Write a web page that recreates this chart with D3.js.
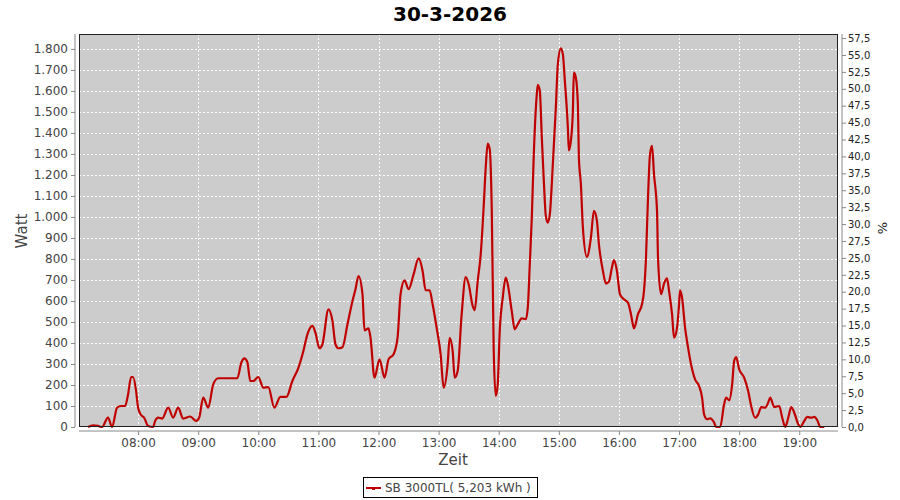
<!DOCTYPE html>
<html><head><meta charset="utf-8">
<script src="https://cdn.jsdelivr.net/npm/d3@7"></script>
<style>body{margin:0;background:#fff}svg{display:block}text{font-family:"DejaVu Sans",sans-serif}</style>
</head><body><svg id="c" width="900" height="500"></svg>
<script>
const title = "30-3-2026";
const seriesName = "SB 3000TL( 5,203 kWh )";
const times = ["07:10","07:15","07:20","07:24","07:30","07:34","07:39","07:43","07:47","07:50","07:53","07:55","07:58","08:00","08:03","08:06","08:10","08:15","08:17","08:20","08:24","08:30","08:35","08:40","08:45","08:52","08:58","09:01","09:05","09:10","09:15","09:20","09:29","09:39","09:43","09:46","09:49","09:52","09:55","10:00","10:05","10:10","10:16","10:22","10:28","10:34","10:40","10:45","10:49","10:54","10:57","11:01","11:04","11:10","11:14","11:17","11:20","11:24","11:29","11:34","11:37","11:40","11:44","11:46","11:50","11:52","11:56","12:01","12:06","12:10","12:15","12:19","12:22","12:26","12:30","12:35","12:40","12:44","12:47","12:51","12:54","12:58","13:02","13:05","13:09","13:11","13:14","13:16","13:19","13:23","13:27","13:30","13:34","13:36","13:39","13:42","13:45","13:47","13:49","13:51","13:53","13:55","13:57","13:59","14:01","14:04","14:07","14:09","14:13","14:16","14:19","14:23","14:27","14:29","14:31","14:33","14:35","14:38","14:39","14:41","14:43","14:45","14:47","14:49","14:51","14:54","14:57","14:59","15:02","15:04","15:06","15:09","15:10","15:12","15:14","15:15","15:17","15:19","15:20","15:22","15:24","15:28","15:32","15:35","15:38","15:40","15:44","15:47","15:50","15:53","15:55","15:58","16:01","16:05","16:09","16:12","16:15","16:19","16:23","16:25","16:27","16:29","16:31","16:33","16:35","16:38","16:39","16:42","16:45","16:48","16:50","16:53","16:55","16:58","17:00","17:01","17:03","17:06","17:09","17:12","17:16","17:20","17:23","17:25","17:28","17:31","17:35","17:37","17:41","17:45","17:47","17:50","17:53","17:55","17:57","18:00","18:05","18:09","18:12","18:16","18:19","18:22","18:26","18:29","18:31","18:35","18:40","18:43","18:46","18:49","18:52","18:55","18:59","19:01","19:05","19:08","19:12","19:15","19:18","19:21","19:25"];
const watts = [0,8,5,0,45,0,92,100,100,155,238,238,171,92,57,45,5,0,29,45,40,92,45,92,40,50,29,45,140,92,203,232,232,232,306,327,310,219,219,238,187,190,92,143,143,219,282,362,441,481,449,375,394,560,505,394,375,380,489,600,656,719,632,460,470,425,235,322,235,322,346,425,632,698,656,727,803,743,651,651,584,473,346,187,298,425,362,235,267,537,714,680,576,556,695,822,1052,1235,1349,1322,1044,362,148,203,457,616,711,680,552,465,489,517,513,568,775,997,1300,1584,1629,1600,1378,1171,1005,973,1013,1251,1521,1727,1803,1775,1648,1425,1317,1362,1505,1687,1663,1537,1282,1156,949,810,901,1029,981,870,743,683,692,759,794,743,632,608,592,537,470,537,584,648,806,1092,1298,1338,1203,1029,806,632,683,708,648,537,425,473,584,651,616,473,378,298,227,195,140,60,37,41,21,0,0,108,140,127,203,314,333,275,235,171,100,44,60,95,92,116,140,95,100,44,0,44,95,68,13,0,29,48,44,48,32,0,0];
const leftTicks = [0,100,200,300,400,500,600,700,800,900,1000,1100,1200,1300,1400,1500,1600,1700,1800];
const rightTicks = [0,2.5,5,7.5,10,12.5,15,17.5,20,22.5,25,27.5,30,32.5,35,37.5,40,42.5,45,47.5,50,52.5,55,57.5];
const xTickLabels = ["08:00","09:00","10:00","11:00","12:00","13:00","14:00","15:00","16:00","17:00","18:00","19:00"];

const L=79, R=838, T=34, B=427;
const svg = d3.select("#c");
const parse = s => { const [h,m]=s.split(":").map(Number); return new Date(2026,2,30,h,m,0); };
const x = d3.scaleTime().domain([new Date(2026,2,30,7,1,0), new Date(2026,2,30,19,38,40)]).range([L,R]);
const y = d3.scaleLinear().domain([0,1871]).range([B,T]);
const y2 = d3.scaleLinear().domain([0,58.1]).range([B,T]);
const data = times.map((t,i)=>({t:parse(t), v:watts[i]}));

svg.append("rect").attr("x",L).attr("y",T).attr("width",R-L).attr("height",B-T).attr("fill","#cccccc");
// grid
const g = svg.append("g");
leftTicks.forEach(v=>{ if(v===0) return; g.append("line").attr("x1",L).attr("x2",R).attr("y1",Math.round(y(v))+0.5).attr("y2",Math.round(y(v))+0.5).attr("stroke","#fff").attr("stroke-dasharray","2,2"); });
const xTicks = xTickLabels.map(parse);
xTicks.forEach(d=>{ g.append("line").attr("x1",Math.round(x(d))+0.5).attr("x2",Math.round(x(d))+0.5).attr("y1",T).attr("y2",B).attr("stroke","#fff").attr("stroke-dasharray","2,2"); });

svg.append("path").datum(data).attr("fill","none").attr("stroke","#c00000").attr("stroke-width",2.2)
  .attr("stroke-linejoin","round")
  .attr("d", d3.line().curve(d3.curveMonotoneX).x(d=>x(d.t)).y(d=>y(d.v)));

svg.append("rect").attr("x",L+0.5).attr("y",T+0.5).attr("width",R-L-1).attr("height",B-T-1).attr("fill","none").attr("stroke","#222");

const fmtL = d3.formatLocale({decimal:",",thousands:".",grouping:[3],currency:["","€"]});
// left axis
const ax = svg.append("g").attr("transform","translate(75,0)")
  .call(d3.axisLeft(y).tickValues(leftTicks).tickSize(4).tickPadding(3).tickFormat(fmtL.format(",d")));
ax.select(".domain").attr("stroke","#888").attr("d",`M0,${T}V${B}`);
ax.selectAll(".tick line").attr("stroke","#888");
ax.selectAll("text").attr("fill","#444").style("font-size","12px");
// right axis
const ar = svg.append("g").attr("transform","translate(842,0)")
  .call(d3.axisRight(y2).tickValues(rightTicks).tickSize(4).tickPadding(2).tickFormat(fmtL.format(".1f")));
ar.select(".domain").attr("stroke","#888").attr("d",`M0,${T}V${B}`);
ar.selectAll(".tick line").attr("stroke","#888");
ar.selectAll("text").attr("fill","#222").style("font-size","10px");
// bottom axis
const axb = svg.append("g").attr("transform","translate(0,431)")
  .call(d3.axisBottom(x).tickValues(xTicks).tickSize(4).tickPadding(3).tickFormat(d3.timeFormat("%H:%M")));
axb.select(".domain").attr("stroke","#888").attr("d",`M${L},0H${R}`);
axb.selectAll(".tick line").attr("stroke","#888");
axb.selectAll("text").attr("fill","#444").style("font-size","12px");

svg.append("text").attr("x",450).attr("y",21).attr("text-anchor","middle").style("font-size","20px").style("font-weight","bold").attr("fill","#000").text(title);
svg.append("text").attr("x",453).attr("y",465).attr("text-anchor","middle").style("font-size","15px").attr("fill","#444").text("Zeit");
svg.append("text").attr("transform","translate(27,231) rotate(-90)").attr("text-anchor","middle").style("font-size","15px").attr("fill","#444").text("Watt");
svg.append("text").attr("transform","translate(887,228) rotate(-90)").attr("text-anchor","middle").style("font-size","13px").attr("fill","#222").text("%");

// legend
const lg = svg.append("g");
lg.append("rect").attr("x",363.5).attr("y",477.5).attr("width",174).attr("height",20).attr("fill","#fff").attr("stroke","#000");
lg.append("line").attr("x1",366).attr("x2",381).attr("y1",488).attr("y2",488).attr("stroke","#c00000").attr("stroke-width",2);
lg.append("rect").attr("x",372).attr("y",487).attr("width",3).attr("height",3).attr("fill","#c00000");
lg.append("text").attr("x",385).attr("y",492).style("font-size","12px").attr("fill","#444").text(seriesName);
</script></body></html>
